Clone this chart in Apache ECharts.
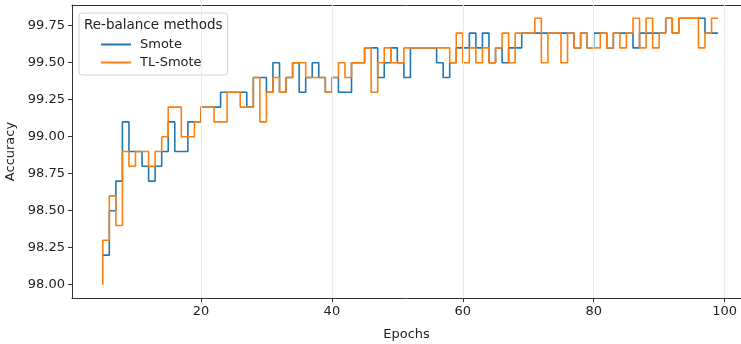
<!DOCTYPE html>
<html>
<head>
<meta charset="utf-8">
<script src="https://cdn.jsdelivr.net/npm/echarts@6/dist/echarts.min.js"></script>
<style>
html,body{margin:0;padding:0;background:#fff;}
#chart{width:741px;height:344px;}
</style>
</head>
<body>
<div id="chart"></div>
<script>
var epochs = [5,6,7,8,9,10,11,12,13,14,15,16,17,18,19,20,21,22,23,24,25,26,27,28,29,30,31,32,33,34,35,36,37,38,39,40,41,42,43,44,45,46,47,48,49,50,51,52,53,54,55,56,57,58,59,60,61,62,63,64,65,66,67,68,69,70,71,72,73,74,75,76,77,78,79,80,81,82,83,84,85,86,87,88,89,90,91,92,93,94,95,96,97,98,99];

var smote = [98.2,98.2,98.5,98.7,99.1,98.9,98.9,98.8,98.7,98.8,98.9,99.1,98.9,98.9,99.1,99.1,99.2,99.2,99.2,99.3,99.3,99.3,99.3,99.2,99.4,99.4,99.3,99.5,99.3,99.4,99.5,99.3,99.4,99.5,99.4,99.3,99.4,99.3,99.3,99.5,99.5,99.6,99.6,99.4,99.5,99.6,99.5,99.4,99.6,99.6,99.6,99.6,99.5,99.4,99.5,99.6,99.6,99.7,99.6,99.7,99.5,99.6,99.5,99.6,99.6,99.7,99.7,99.7,99.7,99.7,99.7,99.7,99.7,99.6,99.7,99.6,99.7,99.7,99.6,99.7,99.7,99.7,99.6,99.7,99.7,99.7,99.7,99.8,99.7,99.8,99.8,99.8,99.8,99.7,99.7];

var tlSmote = [98.0,98.3,98.6,98.4,98.9,98.8,98.9,98.9,98.8,98.9,99.0,99.2,99.2,99.0,99.0,99.1,99.2,99.2,99.1,99.1,99.3,99.3,99.2,99.2,99.4,99.1,99.3,99.4,99.3,99.4,99.5,99.5,99.4,99.4,99.4,99.3,99.4,99.5,99.4,99.5,99.5,99.6,99.3,99.5,99.6,99.5,99.5,99.6,99.6,99.6,99.6,99.6,99.6,99.6,99.5,99.7,99.5,99.6,99.5,99.6,99.5,99.6,99.7,99.5,99.7,99.7,99.7,99.8,99.5,99.7,99.7,99.5,99.7,99.6,99.7,99.6,99.6,99.7,99.6,99.7,99.6,99.7,99.8,99.6,99.8,99.6,99.7,99.8,99.7,99.8,99.8,99.8,99.6,99.7,99.8];

var xTicks = [20,40,60,80,100];
var yTicks = [98.00,98.25,98.50,98.75,99.00,99.25,99.50,99.75];

function pairs(ys){ return epochs.map(function(e,i){ return [e, ys[i]]; }); }

var FONT = 'DejaVu Sans';
var chart = echarts.init(document.getElementById('chart'), null, {renderer:'canvas'});
chart.setOption({
  animation:false,
  backgroundColor:'#ffffff',
  textStyle:{fontFamily:FONT},
  title:{
    text:'Re-balance methods', left:79, top:13,
    textStyle:{fontFamily:FONT, fontSize:13.5, fontWeight:'normal', color:'#222'}
  },
  legend:{
    orient:'vertical', left:79, top:13,
    padding:[25,26,6,22],
    itemGap:5, itemWidth:30, itemHeight:14,
    backgroundColor:'rgba(255,255,255,0.85)', borderColor:'#d0d0d0', borderWidth:1, borderRadius:3,
    textStyle:{fontFamily:FONT, fontSize:13, color:'#222', padding:[0,0,0,4]},
    data:[{name:'Smote', icon:'path://M0,6 L30,6 L30,8 L0,8 Z'},{name:'TL-Smote', icon:'path://M0,6 L30,6 L30,8 L0,8 Z'}]
  },
  grid:{left:72, right:0, top:5, bottom:46, containLabel:false, outerBoundsMode:'none'},
  xAxis:[{
    type:'value', min:0.3, max:102.5,
    name:'Epochs', nameLocation:'middle', nameGap:30,
    nameTextStyle:{fontFamily:FONT, fontSize:13, color:'#222'},
    axisLine:{show:true, onZero:false, lineStyle:{color:'#333', width:1}},
    axisTick:{show:true, length:4, customValues:xTicks, lineStyle:{color:'#333'}},
    axisLabel:{customValues:xTicks, fontFamily:FONT, fontSize:13, color:'#222', margin:7},
    splitLine:{show:false}
  },{
    type:'value', min:0.3, max:102.5, position:'top',
    axisLine:{show:true, onZero:false, lineStyle:{color:'#333', width:1}},
    axisTick:{show:false}, axisLabel:{show:false}, splitLine:{show:false}
  }],
  yAxis:{
    type:'value', min:97.91, max:99.89,
    name:'Accuracy', nameLocation:'middle', nameGap:54, nameRotate:90,
    nameTextStyle:{fontFamily:FONT, fontSize:13, color:'#222'},
    axisLine:{show:true, lineStyle:{color:'#333', width:1}},
    axisTick:{show:true, length:4, customValues:yTicks, lineStyle:{color:'#333'}},
    axisLabel:{customValues:yTicks, fontFamily:FONT, fontSize:13, color:'#222', margin:7,
      formatter:function(v){ return Number(v).toFixed(2); }},
    splitLine:{show:false}
  },
  series:[{
    name:'Smote', type:'line', step:'start', data:pairs(smote),
    showSymbol:false, symbol:'none', color:'#1f77b4',
    lineStyle:{color:'#1f77b4', width:1.6}, z:2,
    markLine:{silent:true, symbol:'none', label:{show:false},
      lineStyle:{color:'#ebebeb', width:1, type:'solid'},
      data:xTicks.map(function(t){ return {xAxis:t}; })}
  },{
    name:'TL-Smote', type:'line', step:'start', data:pairs(tlSmote),
    showSymbol:false, symbol:'none', color:'#ff7f0e',
    lineStyle:{color:'#ff7f0e', width:1.6}, z:3
  }]
});
</script>
</body>
</html>
